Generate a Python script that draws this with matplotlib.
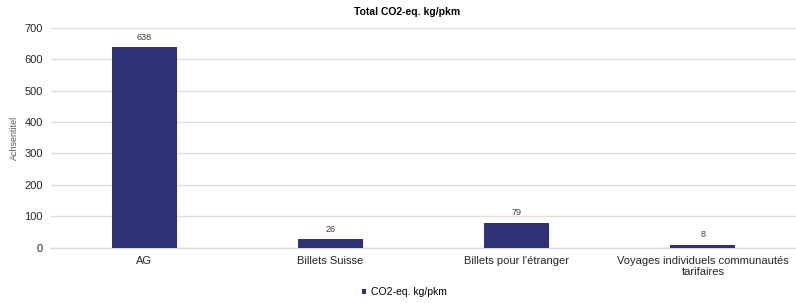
import numpy as np
import matplotlib.pyplot as plt

# Data
categories = ['AG', 'Billets Suisse', "Billets pour l'étranger",
              'Voyages individuels communautés\ntarifaires']
values = [638, 26, 79, 8]

plt.rcParams['font.family'] = ['Liberation Sans', 'DejaVu Sans']

fig = plt.figure(figsize=(7.96, 3.03), dpi=100)
ax = fig.add_axes([0.0645, 0.183, 0.9355, 0.725])

x = np.arange(len(categories))
bars = ax.bar(x, values, width=0.35, color='#2E3378', label='CO2-eq. kg/pkm', zorder=3)

for b, v in zip(bars, values):
    ax.annotate(str(v), (b.get_x() + b.get_width() / 2, v), xytext=(0, 4),
                textcoords='offset points', ha='center', va='bottom',
                fontsize=6.5, color='#404040')

ax.set_xlim(-0.5, len(categories) - 0.5)
ax.set_ylim(0, 700)
ax.set_yticks(range(0, 701, 100))
ax.yaxis.grid(True, color='#dedede', linewidth=1, zorder=0)
for s in ['top', 'right', 'left']:
    ax.spines[s].set_visible(False)
ax.spines['bottom'].set_color('#d9d9d9')
ax.spines['bottom'].set_linewidth(1)
ax.tick_params(axis='both', length=0, labelsize=8, colors='#262626', pad=6)
ax.set_xticks(x)
ax.set_xticklabels(categories)

ax.set_ylabel('Achsentitel', fontsize=6.5, color='#595959', labelpad=4)
fig.text(0.512, 0.96, 'Total CO2-eq. kg/pkm', fontsize=7.5, fontweight='bold',
         ha='center', va='center')

fig.legend(loc='center', bbox_to_anchor=(0.508, 0.035), frameon=False,
           fontsize=7.5, handlelength=0.4, handleheight=0.4, handletextpad=0.4)

fig.savefig('out.png', dpi=100)
